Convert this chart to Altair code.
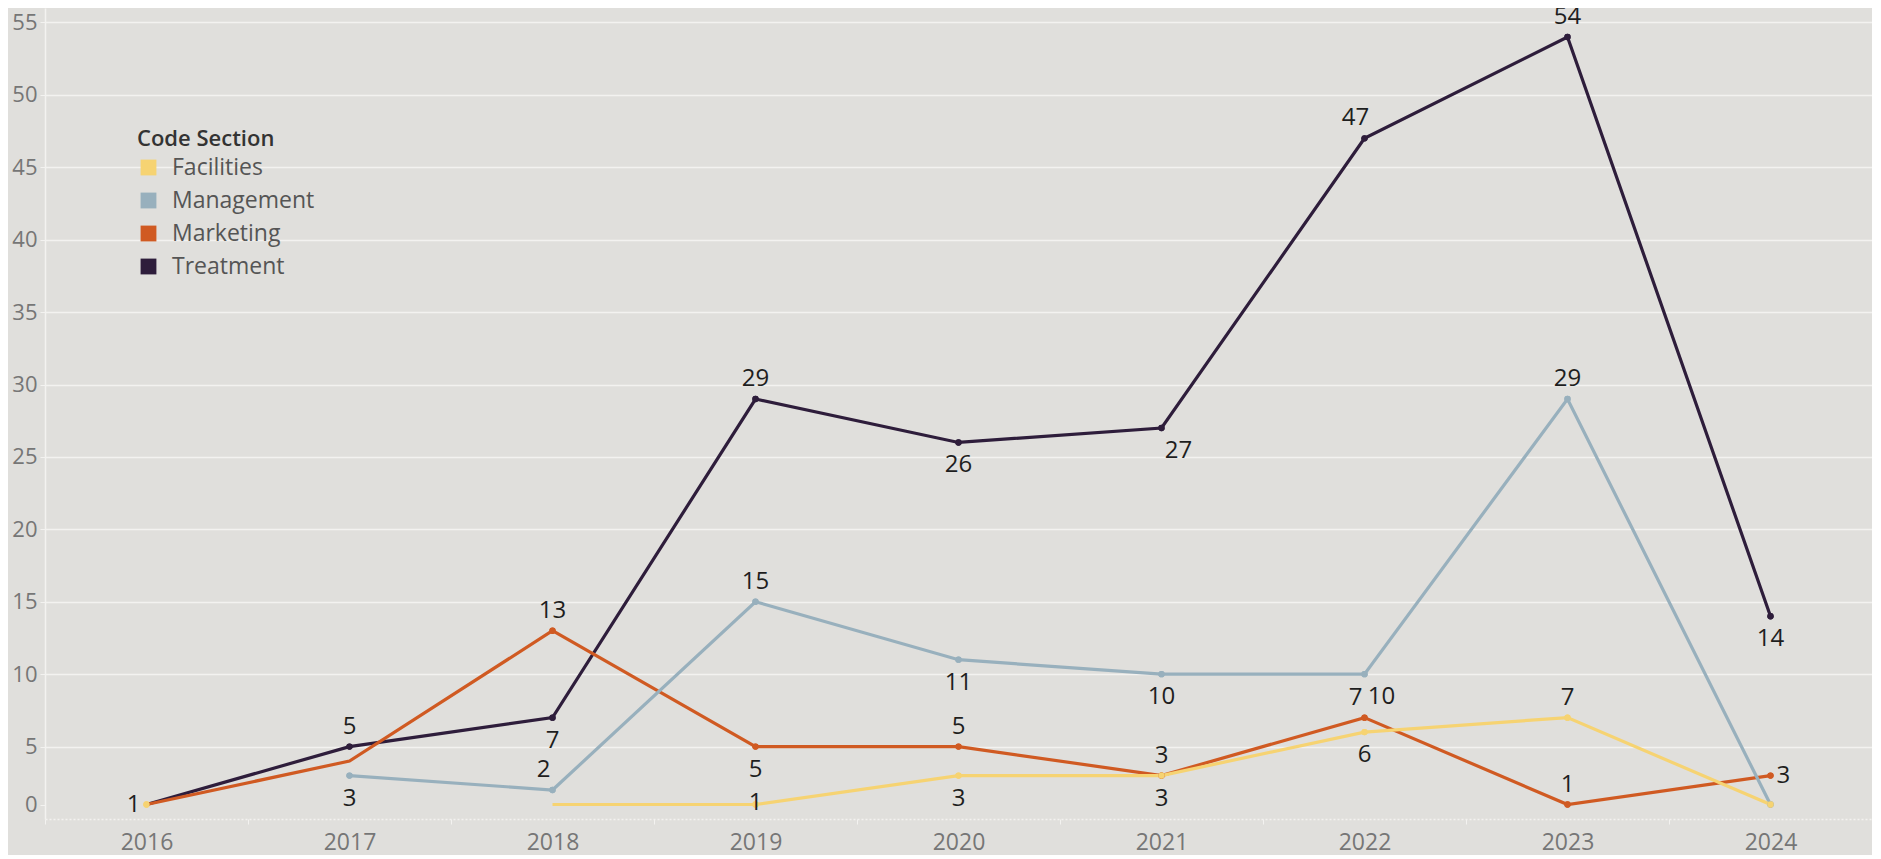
import altair as alt
import pandas as pd

years = [2016, 2017, 2018, 2019, 2020, 2021, 2022, 2023, 2024]
series_names = ["Treatment", "Marketing", "Management", "Facilities"]
legend_order = ["Facilities", "Management", "Marketing", "Treatment"]
colors = ["#f6d372", "#98b0bd", "#d05a22", "#2e1d3b"]

treatment = [1, 5, 7, 29, 26, 27, 47, 54, 14]
marketing = [1, 4, 13, 5, 5, 3, 7, 1, 3]
management = [None, 3, 2, 15, 11, 10, 10, 29, 1]
facilities = [1, None, 1, 1, 3, 3, 6, 7, 1]

# where each point's value label sits ("none" = no marker, "dot" = marker only)
treatment_pos = ["none", "above", "below", "above", "below", "below_right", "above_left", "above", "below"]
marketing_pos = ["none", "none", "above", "below", "above", "above", "above_left", "above", "right"]
management_pos = ["none", "below", "above_left", "above", "below", "below", "below_right", "above", "dot"]
facilities_pos = ["left", "none", "none", "center", "below", "below", "below", "above", "dot"]

rows = []
for name, vals, poss in [("Treatment", treatment, treatment_pos),
                         ("Marketing", marketing, marketing_pos),
                         ("Management", management, management_pos),
                         ("Facilities", facilities, facilities_pos)]:
    for i, (y, v, p) in enumerate(zip(years, vals, poss)):
        rows.append({"Code Section": name, "Year": str(y), "Count": v, "pos": p,
                     "idx": i})
df = pd.DataFrame(rows)

FONT = "Open Sans"
BG = "#e0dfdc"
GRID = "#f3f2f0"

x_enc = alt.X("Year:O", title=None,
              scale=alt.Scale(type="band", paddingInner=0, paddingOuter=0),
              axis=alt.Axis(labelAngle=0, tickBand="extent", labelFontSize=23,
                            labelColor="#767676", labelFont=FONT, labelPadding=7,
                            tickColor=GRID, tickSize=5, domainColor=GRID,
                            domainDash=[2, 2], domainWidth=1.5, grid=False))
y_enc = alt.Y("Count:Q", title=None,
              scale=alt.Scale(domain=[0, 56], nice=False, zero=False),
              axis=alt.Axis(values=[1, 5, 10, 15, 20, 25, 30, 35, 40, 45, 50, 55],
                            labelExpr="datum.value == 1 ? '0' : datum.label",
                            labelFontSize=22, labelColor="#767676", labelFont=FONT,
                            labelPadding=3, tickColor=GRID, tickSize=5,
                            domainColor=GRID, domainWidth=1.5,
                            gridColor=GRID, gridWidth=1.5,
                            gridOpacity={"condition": {"test": "datum.value == 1", "value": 0}, "value": 1}))
color_enc = alt.Color("Code Section:N",
                      scale=alt.Scale(domain=legend_order, range=colors),
                      legend=alt.Legend(orient="none", legendX=92, legendY=121,
                                        title="Code Section", titleFont=FONT,
                                        titleFontSize=22, titleFontWeight=600,
                                        titleColor="#333333", labelFont=FONT,
                                        labelFontSize=23, labelColor="#555555",
                                        symbolType="square", symbolSize=250,
                                        symbolStrokeWidth=0, symbolOpacity=1,
                                        rowPadding=9, titlePadding=5, labelOffset=12))

base = alt.Chart(df)

lines = base.mark_line(strokeWidth=3.2, invalid="break-paths-show-domains").encode(
    x=x_enc, y=y_enc, color=color_enc, detail="Code Section:N",
    order=alt.Order("idx:Q"))

dots = base.transform_filter("datum.pos != 'none'").mark_point(
    filled=True, size=40, opacity=1).encode(x=x_enc, y=y_enc, color=color_enc)

offsets = {
    "above": (0, -20, "center"),
    "below": (0, 23, "center"),
    "left": (-6, 0, "right"),
    "right": (6, 0, "left"),
    "center": (0, -2, "center"),
    "above_left": (-9, -20, "center"),
    "below_right": (17, 23, "center"),
}
texts = []
for p, (dx, dy, al) in offsets.items():
    texts.append(base.transform_filter(f"datum.pos == '{p}'").mark_text(
        dx=dx, dy=dy, align=al, baseline="middle", font=FONT, fontSize=24,
        color="#1e1e1e").encode(x=x_enc, y=y_enc, text=alt.Text("Count:Q")))

chart = alt.layer(dots, lines, dots, *texts).properties(
    width=1827, height=811, background=BG,
    autosize=alt.AutoSizeParams(type="none"),
    padding={"left": 37, "top": 0, "right": 0, "bottom": 36},
).configure_view(stroke=None, fill=None)

chart.save("out.html", embed_options={"renderer": "svg", "actions": False})
